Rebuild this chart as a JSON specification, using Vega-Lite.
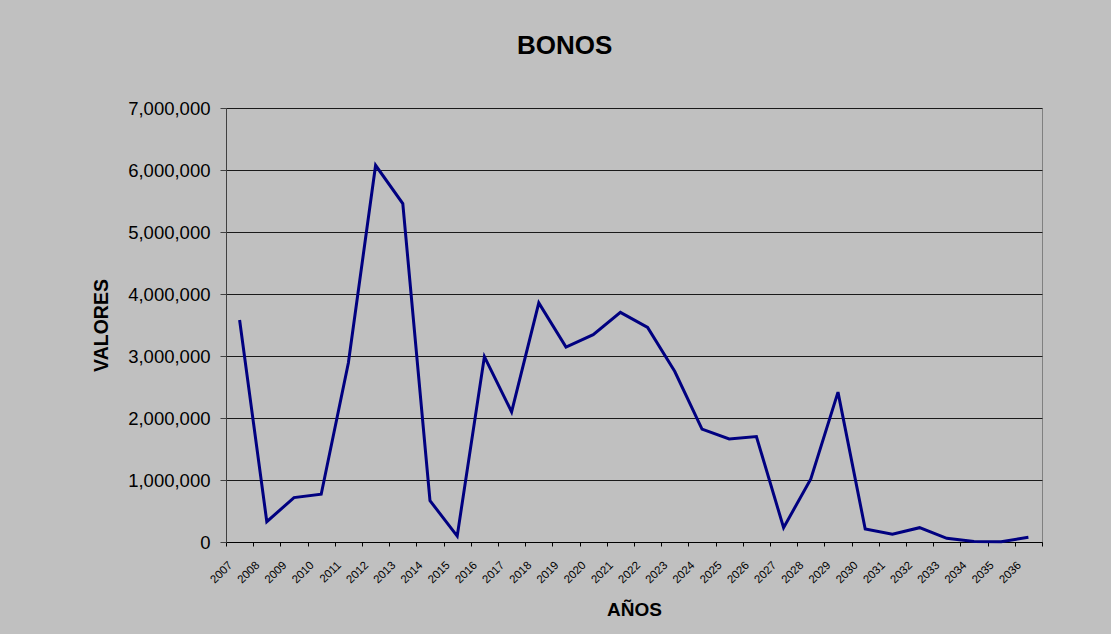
{
  "$schema": "https://vega.github.io/schema/vega-lite/v6.json",
  "width": 816,
  "height": 434,
  "autosize": "none",
  "padding": {"left": 226, "top": 108, "right": 69, "bottom": 92},
  "background": "#C0C0C0",
  "config": {
    "font": "Liberation Sans",
    "view": {"fill": "#C0C0C0", "stroke": "#808080", "strokeWidth": 1}
  },
  "title": {
    "text": "BONOS",
    "font": "Liberation Sans",
    "fontSize": 26,
    "fontWeight": "bold",
    "color": "#000000",
    "anchor": "start",
    "frame": "group",
    "dx": 291,
    "baseline": "alphabetic",
    "offset": 19
  },
  "data": {
    "values": [
      {"year": "2007", "valor": 3580000},
      {"year": "2008", "valor": 328000},
      {"year": "2009", "valor": 716000},
      {"year": "2010", "valor": 770000},
      {"year": "2011", "valor": 2890000},
      {"year": "2012", "valor": 6076000},
      {"year": "2013", "valor": 5458000},
      {"year": "2014", "valor": 667000},
      {"year": "2015", "valor": 95000},
      {"year": "2016", "valor": 2990000},
      {"year": "2017", "valor": 2100000},
      {"year": "2018", "valor": 3856000},
      {"year": "2019", "valor": 3144000},
      {"year": "2020", "valor": 3343000},
      {"year": "2021", "valor": 3703000},
      {"year": "2022", "valor": 3461000},
      {"year": "2023", "valor": 2750000},
      {"year": "2024", "valor": 1820000},
      {"year": "2025", "valor": 1663000},
      {"year": "2026", "valor": 1700000},
      {"year": "2027", "valor": 231000},
      {"year": "2028", "valor": 1017000},
      {"year": "2029", "valor": 2417000},
      {"year": "2030", "valor": 210000},
      {"year": "2031", "valor": 124000},
      {"year": "2032", "valor": 231000},
      {"year": "2033", "valor": 60000},
      {"year": "2034", "valor": 10000},
      {"year": "2035", "valor": 5000},
      {"year": "2036", "valor": 76000}
    ]
  },
  "mark": {"type": "line", "color": "#000080", "strokeWidth": 3, "strokeJoin": "miter"},
  "encoding": {
    "x": {
      "field": "year",
      "type": "ordinal",
      "bandPosition": 0.5,
      "scale": {"type": "band", "paddingInner": 0, "paddingOuter": 0},
      "axis": {
        "title": "AÑOS",
        "titleFont": "Liberation Sans",
        "titleFontSize": 19,
        "titleFontWeight": "bold",
        "titleColor": "#000000",
        "titlePadding": 15,
        "tickBand": "extent",
        "grid": false,
        "domainColor": "#000000",
        "tickColor": "#000000",
        "tickSize": 4,
        "labelFont": "Liberation Sans",
        "labelFontSize": 11.5,
        "labelColor": "#000000",
        "labelAngle": -45,
        "labelAlign": "right",
        "labelBaseline": "top",
        "labelPadding": 13,
        "labelOffset": -13.5
      }
    },
    "y": {
      "field": "valor",
      "type": "quantitative",
      "scale": {"domain": [0, 7000000], "nice": false},
      "axis": {
        "title": "VALORES",
        "titleFont": "Liberation Sans",
        "titleFontSize": 19.5,
        "titleFontWeight": "bold",
        "titleColor": "#000000",
        "titlePadding": 16,
        "values": [0, 1000000, 2000000, 3000000, 4000000, 5000000, 6000000, 7000000],
        "format": ",d",
        "grid": true,
        "gridColor": "#1a1a1a",
        "gridWidth": 1,
        "domainColor": "#404040",
        "tickColor": "#404040",
        "tickSize": 6,
        "labelFont": "Liberation Sans",
        "labelFontSize": 18.5,
        "labelColor": "#000000",
        "labelPadding": 10
      }
    }
  }
}
